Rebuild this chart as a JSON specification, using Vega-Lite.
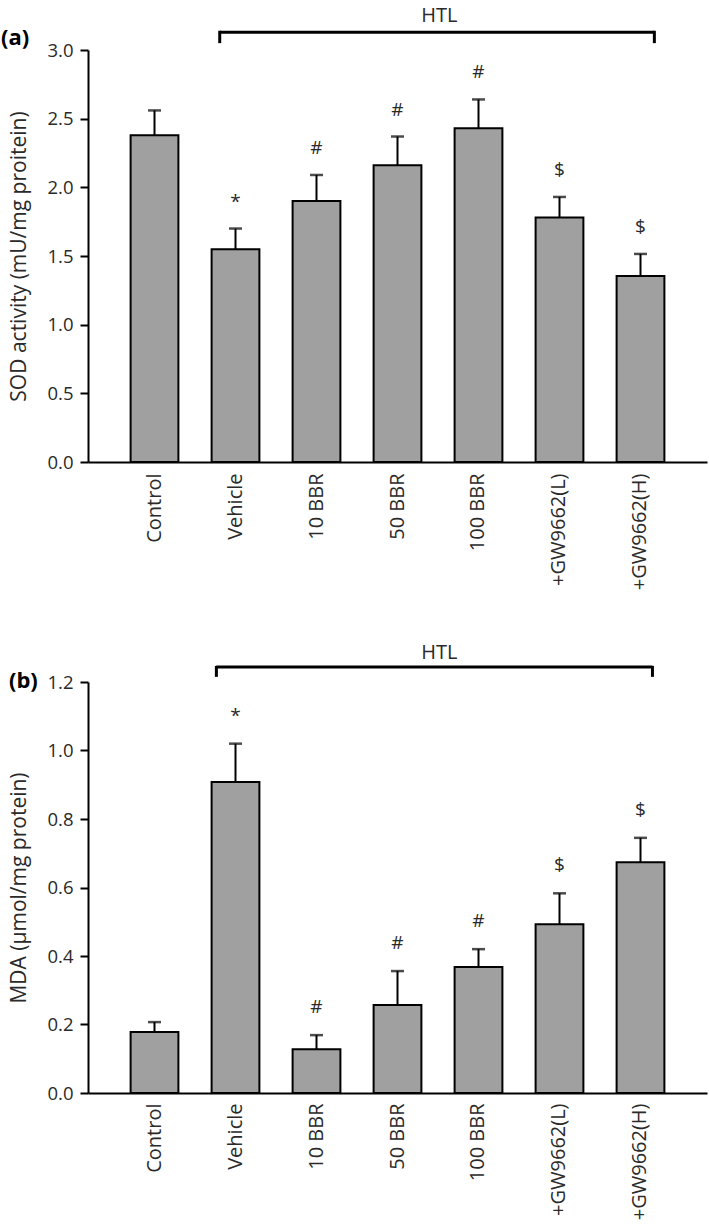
{
  "$schema": "https://vega.github.io/schema/vega-lite/v6.json",
  "padding": {"left": 0, "top": 5, "right": 4, "bottom": 5},
  "background": "white",
  "bounds": "flush",
  "spacing": 220,
  "config": {
    "view": {"stroke": null},
    "font": "Open Sans",
    "axis": {
      "labelFont": "Open Sans",
      "titleFont": "Open Sans",
      "labelColor": "#2a2a2a",
      "titleColor": "#2a2a2a",
      "labelFontWeight": "normal",
      "titleFontWeight": "normal",
      "domainColor": "black",
      "domainWidth": 2,
      "tickColor": "black",
      "tickWidth": 2,
      "grid": false,
      "labelFlush": false,
      "labelOverlap": false,
      "labelLimit": 400
    }
  },
  "datasets": {
    "sod": [
      {"group": "Control", "mean": 2.38, "upper": 2.56, "sig": ""},
      {"group": "Vehicle", "mean": 1.55, "upper": 1.70, "sig": "*"},
      {"group": "10 BBR", "mean": 1.90, "upper": 2.09, "sig": "#"},
      {"group": "50 BBR", "mean": 2.16, "upper": 2.37, "sig": "#"},
      {"group": "100 BBR", "mean": 2.43, "upper": 2.64, "sig": "#"},
      {"group": "+GW9662(L)", "mean": 1.78, "upper": 1.93, "sig": "$"},
      {"group": "+GW9662(H)", "mean": 1.355, "upper": 1.515, "sig": "$"}
    ],
    "mda": [
      {"group": "Control", "mean": 0.178, "upper": 0.207, "sig": ""},
      {"group": "Vehicle", "mean": 0.908, "upper": 1.02, "sig": "*"},
      {"group": "10 BBR", "mean": 0.128, "upper": 0.169, "sig": "#"},
      {"group": "50 BBR", "mean": 0.257, "upper": 0.356, "sig": "#"},
      {"group": "100 BBR", "mean": 0.368, "upper": 0.42, "sig": "#"},
      {"group": "+GW9662(L)", "mean": 0.493, "upper": 0.583, "sig": "$"},
      {"group": "+GW9662(H)", "mean": 0.674, "upper": 0.745, "sig": "$"}
    ],
    "bracket": [
      {"start": "Vehicle", "end": "+GW9662(H)", "label": "HTL"}
    ]
  },
  "vconcat": [
    {
      "title": {"text": "(a)", "anchor": "start", "frame": "bounds", "fontSize": 22, "fontWeight": "bold", "color": "black", "offset": 0, "dy": 44, "dx": -8},
      "width": 619,
      "height": 412,
      "layer": [
        {
          "data": {"name": "sod"},
          "mark": {"type": "bar", "fill": "#a0a0a0", "stroke": "black", "strokeWidth": 2},
          "encoding": {
            "x": {
              "field": "group", "type": "nominal",
              "scale": {"domain": ["Control", "Vehicle", "10 BBR", "50 BBR", "100 BBR", "+GW9662(L)", "+GW9662(H)"], "paddingInner": 0.41, "paddingOuter": 0.526},
              "axis": {"title": null, "ticks": false, "labelAngle": -90, "labelAlign": "right", "labelBaseline": "middle", "labelPadding": 11, "labelFontSize": 20}
            },
            "y": {
              "field": "mean", "type": "quantitative",
              "scale": {"domain": [0, 3], "nice": false},
              "axis": {"title": "SOD activity (mU/mg proitein)", "titleFontSize": 21, "titlePadding": 17, "values": [0, 0.5, 1, 1.5, 2, 2.5, 3], "format": ".1f", "labelFontSize": 18.5, "tickSize": 8, "labelPadding": 7}
            }
          }
        },
        {
          "data": {"name": "sod"},
          "mark": {"type": "rule", "strokeWidth": 2, "color": "black"},
          "encoding": {
            "x": {"field": "group", "type": "nominal"},
            "y": {"field": "mean", "type": "quantitative"},
            "y2": {"field": "upper"}
          }
        },
        {
          "data": {"name": "sod"},
          "mark": {"type": "tick", "orient": "horizontal", "size": 13, "thickness": 2.5, "color": "black"},
          "encoding": {
            "x": {"field": "group", "type": "nominal"},
            "y": {"field": "upper", "type": "quantitative"}
          }
        },
        {
          "data": {"name": "sod"},
          "mark": {"type": "text", "dy": -27, "fontSize": 19, "color": "#2a2a2a", "baseline": "middle", "font": "Open Sans"},
          "encoding": {
            "x": {"field": "group", "type": "nominal"},
            "y": {"field": "upper", "type": "quantitative"},
            "text": {"field": "sig"}
          }
        },
        {
          "data": {"name": "bracket"},
          "mark": {"type": "rule", "strokeWidth": 3, "color": "black", "clip": false},
          "encoding": {
            "x": {"field": "start", "type": "nominal", "bandPosition": 0.17},
            "x2": {"field": "end", "bandPosition": 0.79},
            "y": {"datum": 3.13, "type": "quantitative"}
          }
        },
        {
          "data": {"name": "bracket"},
          "mark": {"type": "rule", "strokeWidth": 3, "color": "black", "clip": false},
          "encoding": {
            "x": {"field": "start", "type": "nominal", "bandPosition": 0.17},
            "y": {"datum": 3.14, "type": "quantitative"},
            "y2": {"datum": 3.05}
          }
        },
        {
          "data": {"name": "bracket"},
          "mark": {"type": "rule", "strokeWidth": 3, "color": "black", "clip": false},
          "encoding": {
            "x": {"field": "end", "type": "nominal", "bandPosition": 0.79},
            "y": {"datum": 3.14, "type": "quantitative"},
            "y2": {"datum": 3.05}
          }
        },
        {
          "data": {"name": "bracket"},
          "mark": {"type": "text", "fontSize": 20, "color": "#2a2a2a", "baseline": "middle", "align": "center", "font": "Open Sans"},
          "encoding": {
            "x": {"datum": "50 BBR", "bandPosition": 1.375},
            "y": {"datum": 3.25, "type": "quantitative"},
            "text": {"field": "label"}
          }
        }
      ]
    },
    {
      "title": {"text": "(b)", "anchor": "start", "frame": "bounds", "fontSize": 22, "fontWeight": "bold", "color": "black", "offset": 0, "dy": 50, "dx": 0},
      "width": 619,
      "height": 411,
      "layer": [
        {
          "data": {"name": "mda"},
          "mark": {"type": "bar", "fill": "#a0a0a0", "stroke": "black", "strokeWidth": 2},
          "encoding": {
            "x": {
              "field": "group", "type": "nominal",
              "scale": {"domain": ["Control", "Vehicle", "10 BBR", "50 BBR", "100 BBR", "+GW9662(L)", "+GW9662(H)"], "paddingInner": 0.41, "paddingOuter": 0.526},
              "axis": {"title": null, "ticks": false, "labelAngle": -90, "labelAlign": "right", "labelBaseline": "middle", "labelPadding": 10, "labelFontSize": 20}
            },
            "y": {
              "field": "mean", "type": "quantitative",
              "scale": {"domain": [0, 1.2], "nice": false},
              "axis": {"title": "MDA (µmol/mg protein)", "titleFontSize": 21, "titlePadding": 17, "values": [0, 0.2, 0.4, 0.6, 0.8, 1.0, 1.2], "format": ".1f", "labelFontSize": 18.5, "tickSize": 8, "labelPadding": 7}
            }
          }
        },
        {
          "data": {"name": "mda"},
          "mark": {"type": "rule", "strokeWidth": 2, "color": "black"},
          "encoding": {
            "x": {"field": "group", "type": "nominal"},
            "y": {"field": "mean", "type": "quantitative"},
            "y2": {"field": "upper"}
          }
        },
        {
          "data": {"name": "mda"},
          "mark": {"type": "tick", "orient": "horizontal", "size": 13, "thickness": 2.5, "color": "black"},
          "encoding": {
            "x": {"field": "group", "type": "nominal"},
            "y": {"field": "upper", "type": "quantitative"}
          }
        },
        {
          "data": {"name": "mda"},
          "mark": {"type": "text", "dy": -28, "fontSize": 19, "color": "#2a2a2a", "baseline": "middle", "font": "Open Sans"},
          "encoding": {
            "x": {"field": "group", "type": "nominal"},
            "y": {"field": "upper", "type": "quantitative"},
            "text": {"field": "sig"}
          }
        },
        {
          "data": {"name": "bracket"},
          "mark": {"type": "rule", "strokeWidth": 3, "color": "black", "clip": false},
          "encoding": {
            "x": {"field": "start", "type": "nominal", "bandPosition": 0.1},
            "x2": {"field": "end", "bandPosition": 0.75},
            "y": {"datum": 1.244, "type": "quantitative"}
          }
        },
        {
          "data": {"name": "bracket"},
          "mark": {"type": "rule", "strokeWidth": 3, "color": "black", "clip": false},
          "encoding": {
            "x": {"field": "start", "type": "nominal", "bandPosition": 0.1},
            "y": {"datum": 1.247, "type": "quantitative"},
            "y2": {"datum": 1.215}
          }
        },
        {
          "data": {"name": "bracket"},
          "mark": {"type": "rule", "strokeWidth": 3, "color": "black", "clip": false},
          "encoding": {
            "x": {"field": "end", "type": "nominal", "bandPosition": 0.75},
            "y": {"datum": 1.247, "type": "quantitative"},
            "y2": {"datum": 1.215}
          }
        },
        {
          "data": {"name": "bracket"},
          "mark": {"type": "text", "fontSize": 20, "color": "#2a2a2a", "baseline": "middle", "align": "center", "font": "Open Sans"},
          "encoding": {
            "x": {"datum": "50 BBR", "bandPosition": 1.375},
            "y": {"datum": 1.285, "type": "quantitative"},
            "text": {"field": "label"}
          }
        }
      ]
    }
  ]
}
